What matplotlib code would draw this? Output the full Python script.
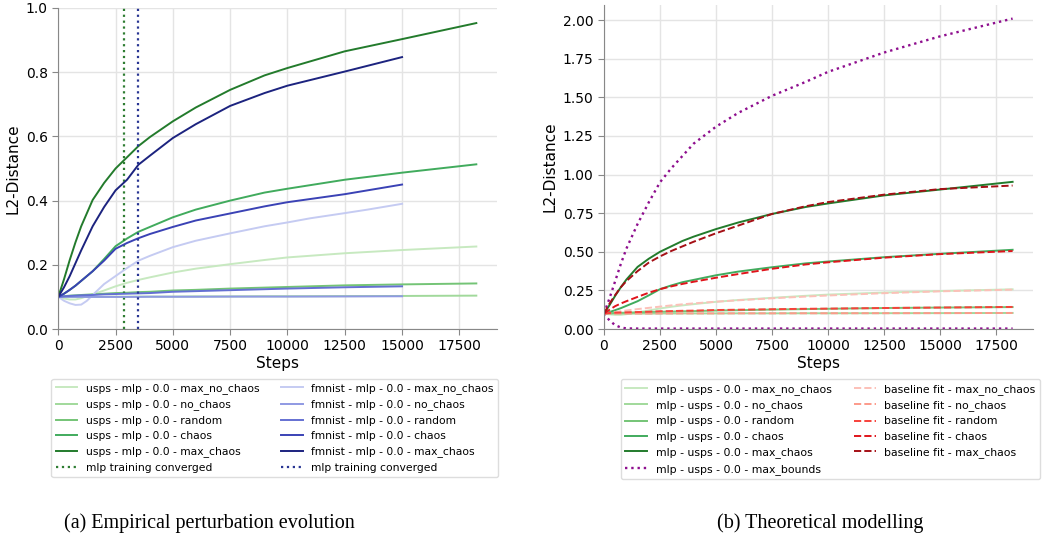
import numpy as np
import matplotlib
matplotlib.use("Agg")
import matplotlib.pyplot as plt

# DATA
steps_usps = [0, 250, 500, 750, 1000, 1500, 2000, 2500, 3000, 3500, 4000, 5000, 6000, 7500, 9000, 10000, 12500, 15000, 18240]
steps_fm = [0, 250, 500, 750, 1000, 1500, 2000, 2500, 3000, 3500, 4000, 5000, 6000, 7500, 9000, 10000, 12500, 15000]
steps_fm_lav = [0, 250, 500, 750, 1000, 1250, 1500, 1750, 2000, 2500, 3000, 3500, 4000, 5000, 6000, 7500, 9000, 10000, 11000, 12500, 13500, 15000]

usps_max_no_chaos = [0.10, 0.095, 0.092, 0.092, 0.096, 0.108, 0.12, 0.133, 0.144, 0.153, 0.161, 0.176, 0.188, 0.202, 0.215, 0.223, 0.236, 0.246, 0.257]
usps_no_chaos = [0.10, 0.10, 0.10, 0.10, 0.10, 0.10, 0.10, 0.1005, 0.1005, 0.101, 0.101, 0.101, 0.1015, 0.1015, 0.102, 0.102, 0.1025, 0.103, 0.104]
usps_random = [0.10, 0.102, 0.104, 0.105, 0.106, 0.108, 0.110, 0.112, 0.113, 0.115, 0.116, 0.120, 0.122, 0.126, 0.129, 0.131, 0.136, 0.139, 0.142]
usps_chaos = [0.10, 0.11, 0.122, 0.135, 0.15, 0.18, 0.218, 0.258, 0.282, 0.303, 0.318, 0.348, 0.372, 0.40, 0.425, 0.437, 0.465, 0.487, 0.513]
usps_max_chaos = [0.10, 0.155, 0.215, 0.27, 0.32, 0.402, 0.455, 0.50, 0.535, 0.57, 0.598, 0.647, 0.69, 0.745, 0.79, 0.813, 0.865, 0.903, 0.953]

fm_max_no_chaos = [0.10, 0.088, 0.08, 0.075, 0.076, 0.088, 0.106, 0.123, 0.14, 0.165, 0.19, 0.213, 0.228, 0.255, 0.275, 0.298, 0.32, 0.332, 0.345, 0.361, 0.372, 0.39]
fm_no_chaos = [0.10, 0.10, 0.10, 0.10, 0.10, 0.10, 0.10, 0.10, 0.10, 0.10, 0.1005, 0.1005, 0.1005, 0.101, 0.101, 0.101, 0.1015, 0.102]
fm_random = [0.10, 0.102, 0.103, 0.104, 0.105, 0.106, 0.108, 0.109, 0.110, 0.111, 0.112, 0.116, 0.118, 0.121, 0.124, 0.126, 0.130, 0.133]
fm_chaos = [0.10, 0.11, 0.122, 0.135, 0.15, 0.18, 0.213, 0.25, 0.268, 0.283, 0.296, 0.318, 0.338, 0.36, 0.382, 0.395, 0.42, 0.45]
fm_max_chaos = [0.10, 0.13, 0.165, 0.205, 0.245, 0.32, 0.38, 0.432, 0.465, 0.512, 0.54, 0.595, 0.638, 0.695, 0.735, 0.758, 0.802, 0.847]

conv_usps = 2850
conv_fm = 3500

fit_max_no_chaos = [0.10, 0.105, 0.11, 0.115, 0.12, 0.129, 0.137, 0.145, 0.153, 0.16, 0.166, 0.177, 0.186, 0.199, 0.21, 0.217, 0.232, 0.244, 0.255]
fit_no_chaos = [0.10, 0.10, 0.10, 0.10, 0.10, 0.10, 0.10, 0.1005, 0.1005, 0.101, 0.101, 0.101, 0.1015, 0.1015, 0.102, 0.102, 0.1025, 0.103, 0.104]
fit_random = [0.10, 0.104, 0.106, 0.107, 0.108, 0.110, 0.112, 0.115, 0.116, 0.118, 0.119, 0.123, 0.125, 0.128, 0.131, 0.132, 0.136, 0.139, 0.143]
fit_chaos = [0.10, 0.125, 0.148, 0.165, 0.18, 0.208, 0.235, 0.258, 0.276, 0.292, 0.306, 0.332, 0.356, 0.39, 0.418, 0.432, 0.462, 0.485, 0.505]
fit_max_chaos = [0.10, 0.165, 0.22, 0.27, 0.31, 0.375, 0.43, 0.47, 0.505, 0.535, 0.565, 0.62, 0.67, 0.745, 0.795, 0.822, 0.87, 0.906, 0.929]

bound_upper = [0.10, 0.2, 0.31, 0.42, 0.52, 0.68, 0.82, 0.95, 1.04, 1.12, 1.20, 1.31, 1.40, 1.51, 1.60, 1.665, 1.79, 1.895, 2.01]
bound_lower = [0.10, 0.055, 0.025, 0.01, 0.004, 0.003, 0.003, 0.003, 0.003, 0.003, 0.003, 0.003, 0.003, 0.003, 0.003, 0.003, 0.003, 0.003, 0.003]

modes = ["max_no_chaos", "no_chaos", "random", "chaos", "max_chaos"]
greens = ["#c7e9c0", "#a1d99b", "#74c476", "#41ab5d", "#237b2c"]
blues = ["#c5cbf2", "#8f99e3", "#6470d2", "#3a42b5", "#1c237f"]
reds = ["#fcc0b8", "#fc9a8a", "#f7413a", "#e0141b", "#a50f15"]
purple = "#8e0e8e"

plt.rcParams['font.family'] = ['DejaVu Sans']

fig = plt.figure(figsize=(10.5, 5.46), dpi=100)
ax1 = fig.add_axes([0.0555, 0.3974, 0.418, 0.588])
ax2 = fig.add_axes([0.5752, 0.3974, 0.4086, 0.594])


def style(ax):
    ax.spines['top'].set_visible(False)
    ax.spines['right'].set_visible(False)
    for s in ['left', 'bottom']:
        ax.spines[s].set_color('#888888')
    ax.tick_params(colors='#888888', labelcolor='black', labelsize=10, length=4)
    ax.grid(True, color='#e4e4e4', linewidth=1)
    ax.set_axisbelow(True)
    ax.set_xlabel("Steps", fontsize=11, labelpad=2)
    ax.set_ylabel("L2-Distance", fontsize=11)


# left: empirical
usps = [usps_max_no_chaos, usps_no_chaos, usps_random, usps_chaos, usps_max_chaos]
fm = [fm_max_no_chaos, fm_no_chaos, fm_random, fm_chaos, fm_max_chaos]
hl = []
for i, m in enumerate(modes):
    h, = ax1.plot(steps_usps, usps[i], color=greens[i], lw=1.4, label="usps - mlp - 0.0 - " + m)
    hl.append(h)
h, = ax1.plot([conv_usps, conv_usps], [0, 1], color="#2e7d32", ls=':', lw=1.6, label="mlp training converged")
hl.append(h)
for i, m in enumerate(modes):
    xs = steps_fm_lav if i == 0 else steps_fm
    h, = ax1.plot(xs, fm[i], color=blues[i], lw=1.4, label="fmnist - mlp - 0.0 - " + m)
    hl.append(h)
h, = ax1.plot([conv_fm, conv_fm], [0, 1], color="#283593", ls=':', lw=1.6, label="mlp training converged")
hl.append(h)
ax1.set_xlim(0, 19150)
ax1.set_ylim(0, 1.0)
ax1.set_xticks(np.arange(0, 17501, 2500))
ax1.set_yticks(np.arange(0, 1.01, 0.2))
style(ax1)
ax1.legend(handles=hl, ncol=2, fontsize=7.75, loc='upper center', bbox_to_anchor=(0.493, -0.155),
           borderaxespad=0, framealpha=1, edgecolor='#dddddd')

# right: theoretical
fits = [fit_max_no_chaos, fit_no_chaos, fit_random, fit_chaos, fit_max_chaos]
hr = []
for i, m in enumerate(modes):
    h, = ax2.plot(steps_usps, usps[i], color=greens[i], lw=1.4, label="mlp - usps - 0.0 - " + m)
    hr.append(h)
h, = ax2.plot(steps_usps, bound_upper, color=purple, ls=':', lw=1.7, label="mlp - usps - 0.0 - max_bounds")
ax2.plot(steps_usps, bound_lower, color=purple, ls=':', lw=1.7)
hr.append(h)
for i, m in enumerate(modes):
    h, = ax2.plot(steps_usps, fits[i], color=reds[i], ls='--', lw=1.4, label="baseline fit - " + m)
    hr.append(h)
ax2.set_xlim(0, 19150)
ax2.set_ylim(0, 2.1)
ax2.set_xticks(np.arange(0, 17501, 2500))
ax2.set_yticks(np.arange(0, 2.01, 0.25))
ax2.yaxis.set_major_formatter(matplotlib.ticker.FormatStrFormatter('%.2f'))
style(ax2)
ax2.legend(handles=hr, ncol=2, fontsize=7.85, loc='upper center', bbox_to_anchor=(0.528, -0.155),
           borderaxespad=0, framealpha=1, edgecolor='#dddddd')

fig.text(0.1995, 0.042, "(a) Empirical perturbation evolution", fontsize=14.5,
         family='Liberation Serif', ha='center', va='center')
fig.text(0.7814, 0.042, "(b) Theoretical modelling", fontsize=14.5,
         family='Liberation Serif', ha='center', va='center')

fig.savefig("out.png", dpi=100)
